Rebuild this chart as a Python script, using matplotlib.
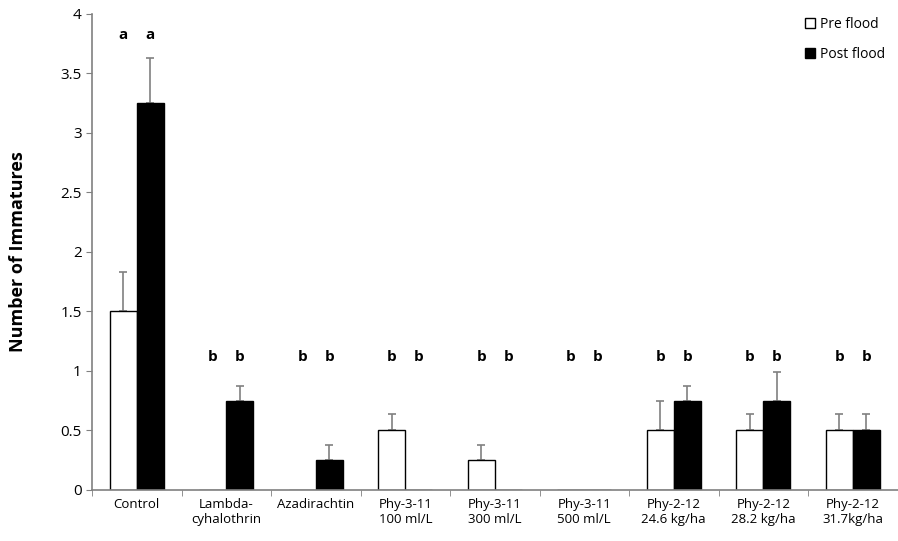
import matplotlib
matplotlib.use("Agg")
import matplotlib.pyplot as plt
import numpy as np
from matplotlib.lines import Line2D

categories = ["Control", "Lambda-\ncyhalothrin", "Azadirachtin", "Phy-3-11\n100 ml/L",
              "Phy-3-11\n300 ml/L", "Phy-3-11\n500 ml/L", "Phy-2-12\n24.6 kg/ha",
              "Phy-2-12\n28.2 kg/ha", "Phy-2-12\n31.7kg/ha"]
pre_flood = [1.5, 0, 0, 0.5, 0.25, 0, 0.5, 0.5, 0.5]
pre_err = [0.33, 0, 0, 0.14, 0.125, 0, 0.25, 0.14, 0.14]
post_flood = [3.25, 0.75, 0.25, 0, 0, 0, 0.75, 0.75, 0.5]
post_err = [0.38, 0.125, 0.125, 0, 0, 0, 0.125, 0.24, 0.14]
pre_letters = ["a", "b", "b", "b", "b", "b", "b", "b", "b"]
post_letters = ["a", "b", "b", "b", "b", "b", "b", "b", "b"]

plt.rcParams['font.family'] = ['Open Sans', 'DejaVu Sans']

fig = plt.figure(figsize=(8.98, 5.41), dpi=100)
ax = fig.add_axes([0.1025, 0.0943, 0.897, 0.880])

x = np.arange(len(categories))
w = 0.3
gray = "#808080"
ax.bar(x - w/2, pre_flood, w, color="white", edgecolor="black", linewidth=1.0, zorder=2)
ax.bar(x + w/2, post_flood, w, color="black", edgecolor="black", linewidth=1.0, zorder=2)
for xi, v, e in zip(x - w/2, pre_flood, pre_err):
    if e > 0:
        ax.errorbar(xi, v, yerr=[[0], [e]], fmt="none", ecolor=gray, elinewidth=1.2, capsize=3, capthick=1.2, zorder=1)
for xi, v, e in zip(x + w/2, post_flood, post_err):
    if e > 0:
        ax.errorbar(xi, v, yerr=[[0], [e]], fmt="none", ecolor=gray, elinewidth=1.2, capsize=3, capthick=1.2, zorder=1)

for i in range(len(categories)):
    yl = 3.82 if pre_letters[i] == "a" else 1.12
    ax.text(x[i] - w/2, yl, pre_letters[i], ha="center", va="center", fontsize=11, fontweight="bold")
    ax.text(x[i] + w/2, yl, post_letters[i], ha="center", va="center", fontsize=11, fontweight="bold")

ax.set_xlim(-0.5, len(categories) - 0.5)
ax.set_ylim(0, 4)
ax.set_yticks(np.arange(0, 4.01, 0.5))
ax.set_yticklabels(["0", "0.5", "1", "1.5", "2", "2.5", "3", "3.5", "4"])
ax.set_xticks(x)
ax.set_xticklabels(categories, fontsize=9.5)
ax.tick_params(axis="x", length=0, pad=6)
ax.set_xticks(np.arange(-0.5, len(categories) + 0.5, 1), minor=True)
ax.tick_params(axis="x", which="minor", length=4, direction="out", color=gray)
ax.tick_params(axis="y", length=4, direction="out", color=gray, labelsize=11)
for s in ["top", "right"]:
    ax.spines[s].set_visible(False)
for s in ["left", "bottom"]:
    ax.spines[s].set_color(gray)
    ax.spines[s].set_linewidth(1.2)
ax.set_ylabel("Number of Immatures", fontsize=13, fontweight="bold", labelpad=24)

handles = [Line2D([], [], marker="s", linestyle="none", markerfacecolor="white", markeredgecolor="black", markersize=7),
           Line2D([], [], marker="s", linestyle="none", markerfacecolor="black", markeredgecolor="black", markersize=7)]
ax.legend(handles, ["Pre flood", "Post flood"], loc="upper right", bbox_to_anchor=(1.0, 1.02),
          frameon=False, fontsize=10, handletextpad=0.2, labelspacing=1.1, handlelength=1.0)

fig.savefig("out.png", dpi=100)
